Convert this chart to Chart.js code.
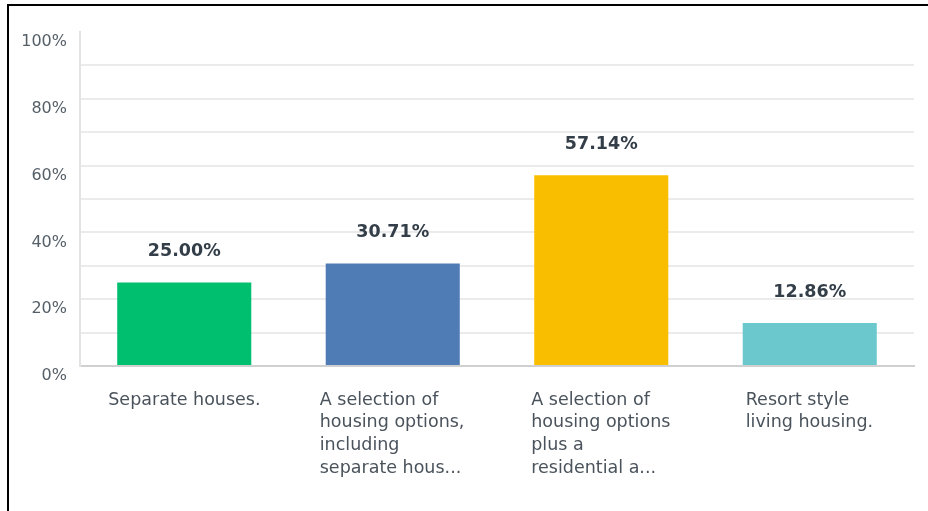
<!DOCTYPE html>
<html>
<head>
<meta charset="utf-8">
<script src="https://cdn.jsdelivr.net/npm/chart.js@4"></script>
<style>
  html, body { margin: 0; padding: 0; background: #fff; }
  body { width: 928px; height: 511px; overflow: hidden; position: relative; }
  #frame { position: absolute; left: 7px; top: 4px; width: 940px; height: 540px; border-left: 2px solid #000; border-top: 2px solid #000; }
  #wrap { position: absolute; left: 0; top: 0; width: 928px; height: 511px; }
</style>
</head>
<body>
<div id="frame"></div>
<div id="wrap"><canvas id="chart"></canvas></div>
<script>
'use strict'

const categories = [
  ['Separate houses.'],
  ['A selection of', 'housing options,', 'including', 'separate hous...'],
  ['A selection of', 'housing options', 'plus a', 'residential a...'],
  ['Resort style', 'living housing.']
]
const percentages = [25.00, 30.71, 57.14, 12.86]
const barColors = ['#00BF6F', '#507CB6', '#F9BE00', '#6BC8CD']
const yTicks = [0, 20, 40, 60, 80, 100]

const labelShift = [-76, -73, -70, -64]
const fontFamily = "'DejaVu Sans', sans-serif"

// value labels above each bar, category labels under the axis
const barLabels = {
  id: 'barLabels',
  afterDraw (chart) {
    const ctx = chart.ctx
    const meta = chart.getDatasetMeta(0)
    const xScale = chart.scales.x
    ctx.save()
    ctx.font = 'bold 17.5px ' + fontFamily
    ctx.fillStyle = '#333e48'
    ctx.textAlign = 'center'
    ctx.textBaseline = 'middle'
    meta.data.forEach((bar, i) => {
      ctx.fillText(percentages[i].toFixed(2) + '%', bar.x, bar.y - 31)
    })
    ctx.font = '17.5px ' + fontFamily
    ctx.fillStyle = '#4a535c'
    ctx.textAlign = 'left'
    categories.forEach((lines, i) => {
      const x = xScale.getPixelForTick(i) + labelShift[i]
      lines.forEach((line, j) => {
        ctx.fillText(line, x, xScale.top + 34 + j * 22.7)
      })
    })
    ctx.restore()
  }
}

const context = document.getElementById('chart').getContext('2d')
new Chart(context, {
  type: 'bar',
  data: {
    labels: categories,
    datasets: [{
      data: percentages,
      backgroundColor: barColors,
      borderWidth: 0,
      categoryPercentage: 0.643,
      barPercentage: 1
    }]
  },
  options: {
    responsive: true,
    maintainAspectRatio: false,
    animation: false,
    layout: { padding: { top: 32, right: 14, bottom: 0, left: 0 } },
    plugins: { legend: { display: false }, tooltip: { enabled: false } },
    scales: {
      x: {
        grid: { display: false, drawTicks: false },
        border: { color: '#d0d0d0', width: 2 },
        ticks: { display: false },
        afterFit: scale => { scale.height = 145 }
      },
      y: {
        min: 0,
        max: 100,
        grid: {
          drawTicks: false,
          color: ctx => (ctx.tick && ctx.tick.value === 100) ? 'rgba(0,0,0,0)' : '#ebebeb',
          lineWidth: 2
        },
        border: { color: '#e3e3e3', width: 2 },
        ticks: {
          stepSize: 10,
          color: '#555f68',
          font: { family: fontFamily, size: 16 },
          padding: 13,
          labelOffset: 10,
          callback: value => yTicks.includes(value) ? value + '%' : ''
        },
        afterFit: scale => { scale.width = 80 }
      }
    }
  },
  plugins: [barLabels]
})
</script>
</body>
</html>
